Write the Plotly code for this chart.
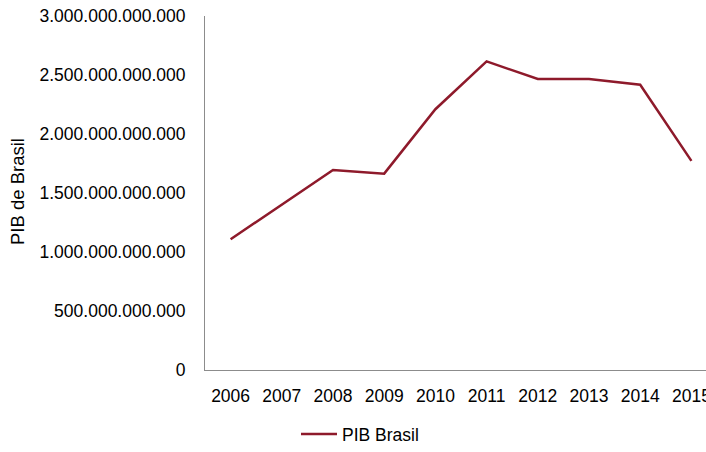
import plotly.graph_objects as go

years = ["2006", "2007", "2008", "2009", "2010", "2011", "2012", "2013", "2014", "2015"]
pib_brasil = [1.108e12, 1.400e12, 1.695e12, 1.664e12, 2.210e12, 2.615e12, 2.466e12, 2.466e12, 2.418e12, 1.772e12]

W, H = 706, 452
ml, mr, mt, mb = 205, 0, 16, 82
pw = W - ml - mr
ph = H - mt - mb

fig = go.Figure()
fig.add_trace(go.Scatter(
    x=years, y=pib_brasil, mode="lines", name="PIB Brasil",
    line=dict(color="#8E1A2B", width=2.5),
))

font = dict(family="Liberation Sans, Arial, sans-serif", size=17.5, color="#000000")
tfont = dict(family="Liberation Sans, Arial, sans-serif", size=18.5, color="#000000")

fig.update_layout(
    width=W, height=H,
    margin=dict(l=ml, r=mr, t=mt, b=mb, pad=0, autoexpand=False),
    paper_bgcolor="white", plot_bgcolor="white",
    separators=",.",
    font=font,
    showlegend=True,
    legend=dict(
        orientation="h", x=(296 - ml) / pw, xanchor="left",
        y=(mt + ph - H) / ph, yanchor="bottom",
        font=font, bgcolor="rgba(0,0,0,0)", itemwidth=36, borderwidth=0,
    ),
    xaxis=dict(
        type="category", range=[-0.5, 9.285], showgrid=False, zeroline=False,
        showline=True, linecolor="#8C8C8C", linewidth=1, ticks="",
        ticklabelstandoff=10, tickfont=font, automargin=False,
    ),
    yaxis=dict(
        range=[0, 3e12], dtick=5e11, tick0=0, tickformat=",d",
        showgrid=False, zeroline=False, showline=True, linecolor="#8C8C8C",
        linewidth=1, ticks="", ticklabelstandoff=15, tickfont=font,
        automargin=False,
    ),
    annotations=[dict(
        text="PIB de Brasil", xref="paper", yref="paper",
        x=(17 - ml) / pw, y=(mt + ph - 192) / ph, xanchor="center", yanchor="middle",
        textangle=-90, showarrow=False, font=tfont,
    )],
)

fig.write_html(
    "out.html",
    config={"displayModeBar": False},
    post_script="document.body.style.margin='0';document.body.style.overflow='hidden';",
)
